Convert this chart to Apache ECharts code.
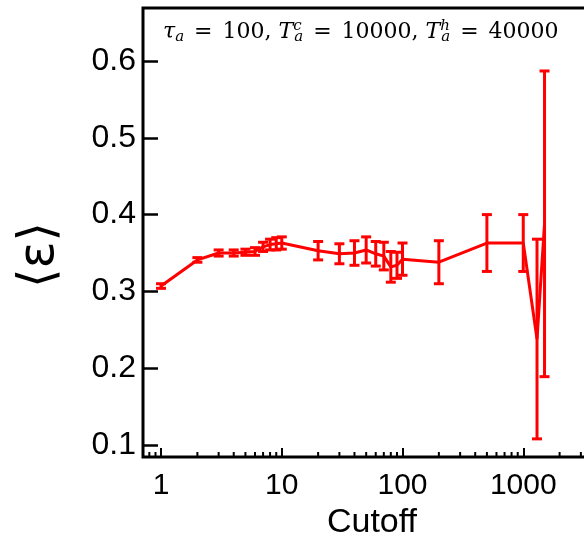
<!DOCTYPE html>
<html>
<head>
<meta charset="utf-8">
<script src="https://cdn.jsdelivr.net/npm/echarts@6/dist/echarts.min.js"></script>
<style>
html, body { margin: 0; padding: 0; background: #fff; }
#main { width: 584px; height: 548px; }
</style>
</head>
<body>
<div id="main"></div>
<script>
// cutoff values and mean epsilon with error bars
const cutoff = [1, 2, 3, 4, 5, 6, 7, 8, 9, 10, 20, 30, 40, 50, 60, 70, 80, 90, 100, 200, 500, 1000, 1300, 1500];
const meanEps = [0.307, 0.341, 0.350, 0.350, 0.351, 0.352, 0.358, 0.361, 0.362, 0.363, 0.353, 0.349, 0.350, 0.354, 0.349, 0.346, 0.332, 0.334, 0.342, 0.338, 0.363, 0.363, 0.238, 0.388];
const errEps = [0.003, 0.003, 0.004, 0.004, 0.004, 0.005, 0.006, 0.007, 0.008, 0.008, 0.012, 0.013, 0.016, 0.017, 0.016, 0.018, 0.020, 0.017, 0.021, 0.028, 0.037, 0.037, 0.130, 0.199];
const minorTicks = [0.8, 0.9, 2, 3, 4, 5, 6, 7, 8, 9, 20, 30, 40, 50, 60, 70, 80, 90,
    200, 300, 400, 500, 600, 700, 800, 900, 2000, 3000, 4000, 5000];

const red = '#ff0000';
const chart = echarts.init(document.getElementById('main'));

const option = {
    animation: false,
    grid: {
        left: 143, top: 8, width: 501, height: 449,
        outerBoundsMode: 'none',
        show: true, borderColor: '#000', borderWidth: 3
    },
    xAxis: {
        type: 'log',
        logBase: 10,
        min: 0.709,
        max: 10000,
        splitNumber: 4,
        axisLine: { show: false },
        axisTick: { inside: true, length: 9, lineStyle: { color: '#000', width: 2 } },
        axisLabel: {
            fontSize: 30, color: '#000', margin: 14, fontFamily: 'Liberation Sans',
            showMinLabel: false, showMaxLabel: false,
            formatter: v => String(Math.round(v))
        },
        splitLine: { show: false }
    },
    yAxis: {
        type: 'value',
        min: 0.0844,
        max: 0.669,
        splitNumber: 6,
        axisLine: { show: false },
        axisTick: { inside: true, length: 15, lineStyle: { color: '#000', width: 2.5 } },
        axisLabel: {
            fontSize: 32, color: '#000', margin: 7, fontFamily: 'Liberation Sans',
            showMinLabel: false, showMaxLabel: false,
            formatter: v => v.toFixed(1)
        },
        splitLine: { show: false }
    },
    graphic: [{
        type: 'text',
        left: 163,
        top: 19,
        style: {
            text: '{i|\u03c4}{sb|a}{eq|=}{n|100, }{i|T}{sp|c}{sb|a}{eq|=}{n|10000, }{i|T}{sp|h}{sb|a}{eq|=}{n|40000}',
            rich: {
                i: { fontFamily: 'DejaVu Serif', fontStyle: 'italic', fontSize: 22, fill: '#000' },
                n: { fontFamily: 'DejaVu Serif', fontSize: 22, fill: '#000' },
                eq: { fontFamily: 'DejaVu Serif', fontSize: 22, fill: '#000', padding: [0, 10, 0, 10] },
                sb: { fontFamily: 'DejaVu Serif', fontStyle: 'italic', fontSize: 15, fill: '#000', padding: [11, 0, 0, 0] },
                sp: { fontFamily: 'DejaVu Serif', fontStyle: 'italic', fontSize: 15, fill: '#000', padding: [0, 0, 11, 0], width: 1 }
            }
        }
    }, {
        type: 'text',
        x: 40,
        y: 255,
        rotation: Math.PI / 2,
        style: {
            text: '\u27e8\u03b5\u27e9',
            fontFamily: 'DejaVu Sans',
            fontSize: 50,
            fill: '#000',
            align: 'center',
            verticalAlign: 'middle'
        }
    }, {
        type: 'text',
        x: 372,
        y: 523,
        style: {
            text: 'Cutoff',
            fontFamily: 'Liberation Sans',
            fontSize: 34,
            fill: '#000',
            align: 'center',
            verticalAlign: 'middle'
        }
    }],
    series: [
        {
            type: 'line',
            data: cutoff.map((c, i) => [c, meanEps[i]]),
            showSymbol: false,
            lineStyle: { color: red, width: 3 },
            z: 3
        },
        {
            type: 'custom',
            data: cutoff.map((c, i) => [c, meanEps[i] - errEps[i], meanEps[i] + errEps[i]]),
            renderItem: function (params, api) {
                const lo = api.coord([api.value(0), api.value(1)]);
                const hi = api.coord([api.value(0), api.value(2)]);
                const cap = 5;
                const st = { stroke: red, lineWidth: 3 };
                return {
                    type: 'group',
                    children: [
                        { type: 'line', shape: { x1: lo[0], y1: lo[1], x2: hi[0], y2: hi[1] }, style: st },
                        { type: 'line', shape: { x1: lo[0] - cap, y1: lo[1], x2: lo[0] + cap, y2: lo[1] }, style: st },
                        { type: 'line', shape: { x1: hi[0] - cap, y1: hi[1], x2: hi[0] + cap, y2: hi[1] }, style: st }
                    ]
                };
            },
            z: 4
        },
        {
            // minor ticks of the log axis
            type: 'custom',
            data: minorTicks.map(v => [v, 0.2]),
            renderItem: function (params, api) {
                const p = api.coord([api.value(0), api.value(1)]);
                const bottom = params.coordSys.y + params.coordSys.height;
                return {
                    type: 'line',
                    shape: { x1: p[0], y1: bottom, x2: p[0], y2: bottom - 5 },
                    style: { stroke: '#000', lineWidth: 2 }
                };
            },
            silent: true,
            z: 2
        }
    ]
};
chart.setOption(option);
</script>
</body>
</html>
